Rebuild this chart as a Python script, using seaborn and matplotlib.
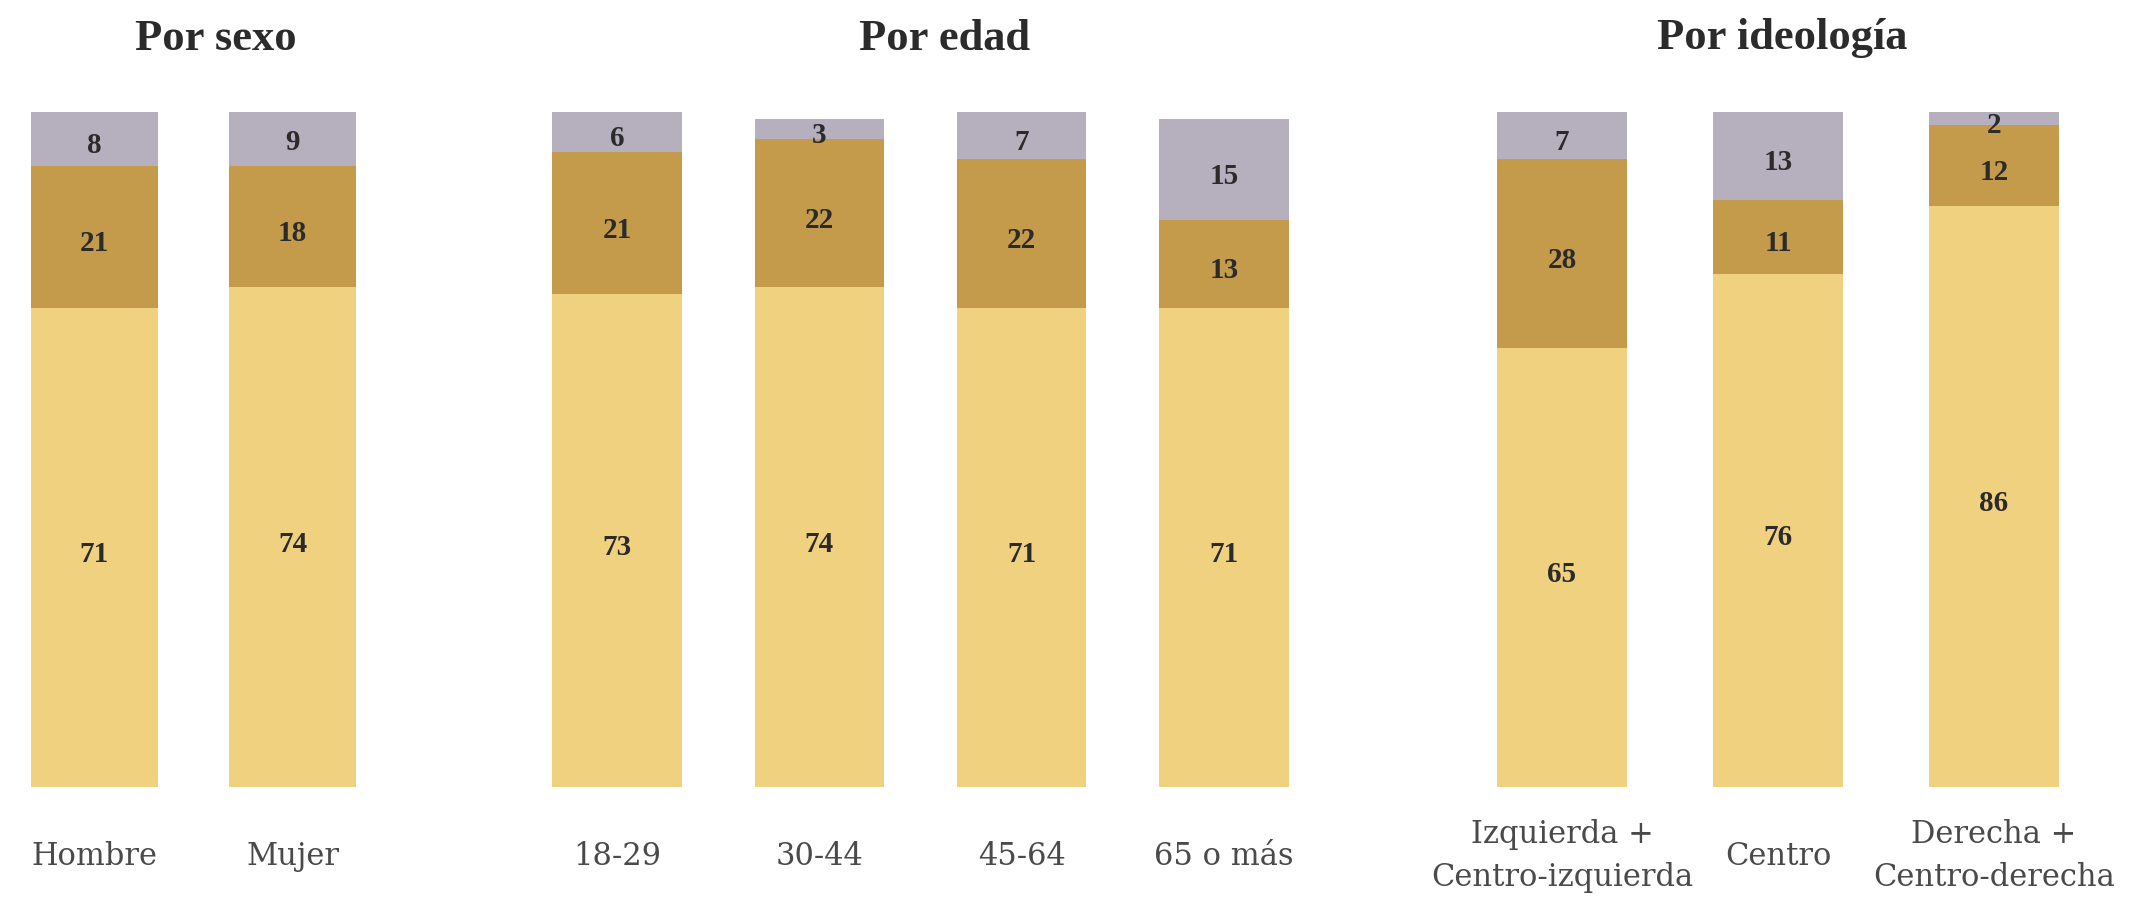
import numpy as np
import pandas as pd
import matplotlib
matplotlib.use("Agg")
import matplotlib.pyplot as plt
import seaborn as sns

sns.set_style("white")
plt.rcParams['font.family'] = ['Liberation Serif', 'DejaVu Serif']

# Data (percent)
sexo_cats = ["Hombre", "Mujer"]
sexo_a = [71, 74]
sexo_b = [21, 18]
sexo_c = [8, 9]

edad_cats = ["18-29", "30-44", "45-64", "65 o más"]
edad_a = [73, 74, 71, 71]
edad_b = [21, 22, 22, 13]
edad_c = [6, 3, 7, 15]

ideo_cats = ["Izquierda +\nCentro-izquierda", "Centro", "Derecha +\nCentro-derecha"]
ideo_a = [65, 76, 86]
ideo_b = [28, 11, 12]
ideo_c = [7, 13, 2]

titles = ["Por sexo", "Por edad", "Por ideología"]
colors = ["#F0D17F", "#C49A4B", "#B6B0BE"]
text_col = "#2b2b2b"

W, H = 2138, 897
fig = plt.figure(figsize=(W / 100, H / 100), dpi=100)

# axes placement in pixels: (left, right) of xlim span
spans = [(-5, 392), (516, 1325), (1454, 2102)]
widths = [0.64, 0.64, 0.6]
title_x = [0.555, 0.53, 0.506]
y_bot, y_top = 787, 112

groups = [
    (sexo_cats, sexo_a, sexo_b, sexo_c),
    (edad_cats, edad_a, edad_b, edad_c),
    (ideo_cats, ideo_a, ideo_b, ideo_c),
]

for (cats, a, b, c), (l, r), title, bw, tx in zip(groups, spans, titles, widths, title_x):
    ax = fig.add_axes([l / W, (H - y_bot) / H, (r - l) / W, (y_bot - y_top) / H])
    df = pd.DataFrame({"cat": cats, "a": a, "b": b, "c": c})
    df["ab"] = df["a"] + df["b"]
    kw = dict(width=bw, saturation=1, linewidth=0, edgecolor="none", ax=ax)
    sns.barplot(data=df, x="cat", y="a", color=colors[0], **kw)
    sns.barplot(data=df, x="cat", y="b", bottom=df["a"], color=colors[1], **kw)
    sns.barplot(data=df, x="cat", y="c", bottom=df["ab"], color=colors[2], **kw)
    for i, row in df.iterrows():
        for val, base in [(row["a"], 0), (row["b"], row["a"]), (row["c"], row["ab"])]:
            ax.text(i, base + val / 2 - 1, str(val), ha="center", va="center",
                    fontsize=21, fontweight="bold", color=text_col)
    ax.set_xlim(-0.5, len(cats) - 0.5)
    ax.set_ylim(0, 100)
    ax.set_xlabel("")
    ax.set_ylabel("")
    ax.set_yticks([])
    ax.tick_params(axis="x", length=0, pad=50, labelcolor="#4a4a4a")
    for t in ax.get_xticklabels():
        t.set_va("center")
        t.set_linespacing(1.5)
        t.set_fontfamily("DejaVu Serif")
        t.set_fontsize(22)
    sns.despine(ax=ax, left=True, bottom=True)
    ax.set_title(title, x=tx, fontsize=32, fontweight="bold", color=text_col, pad=45)

plt.savefig("out.png", dpi=100, facecolor="white")
